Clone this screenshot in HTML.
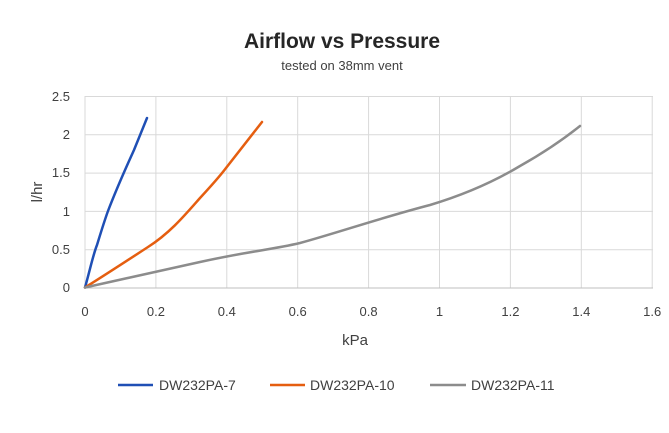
<!DOCTYPE html>
<html><head><style>body{margin:0;background:#fff}</style></head><body>
<svg width="669" height="428" xmlns="http://www.w3.org/2000/svg" font-family="'Liberation Sans', sans-serif">
<rect width="669" height="428" fill="#fff"/>
<g stroke="#d9d9d9" stroke-width="1">
<line x1="85" y1="96.5" x2="653" y2="96.5"/><line x1="85" y1="134.8" x2="653" y2="134.8"/>
<line x1="85" y1="173.1" x2="653" y2="173.1"/><line x1="85" y1="211.4" x2="653" y2="211.4"/>
<line x1="85" y1="249.7" x2="653" y2="249.7"/>
<line x1="155.9" y1="96" x2="155.9" y2="288"/><line x1="226.8" y1="96" x2="226.8" y2="288"/>
<line x1="297.7" y1="96" x2="297.7" y2="288"/><line x1="368.6" y1="96" x2="368.6" y2="288"/>
<line x1="439.5" y1="96" x2="439.5" y2="288"/><line x1="510.4" y1="96" x2="510.4" y2="288"/>
<line x1="581.3" y1="96" x2="581.3" y2="288"/><line x1="652.2" y1="96" x2="652.2" y2="288"/>
<line x1="85" y1="96" x2="85" y2="288"/>
</g>
<line x1="85" y1="288" x2="653" y2="288" stroke="#bfbfbf"/>
<g font-size="13" fill="#404040" text-anchor="end">
<text x="70" y="101">2.5</text><text x="70" y="139">2</text><text x="70" y="177">1.5</text>
<text x="70" y="216">1</text><text x="70" y="254">0.5</text><text x="70" y="292">0</text>
</g>
<g font-size="13" fill="#404040" text-anchor="middle">
<text x="85" y="316">0</text><text x="155.9" y="316">0.2</text><text x="226.8" y="316">0.4</text>
<text x="297.7" y="316">0.6</text><text x="368.6" y="316">0.8</text><text x="439.5" y="316">1</text>
<text x="510.4" y="316">1.2</text><text x="581.3" y="316">1.4</text><text x="652.2" y="316">1.6</text>
</g>
<text x="342" y="48" font-size="21" font-weight="bold" fill="#262626" text-anchor="middle">Airflow vs Pressure</text>
<text x="342" y="70" font-size="13" fill="#404040" text-anchor="middle">tested on 38mm vent</text>
<text x="355" y="345" font-size="15" fill="#404040" text-anchor="middle">kPa</text>
<text transform="translate(42,192) rotate(-90)" font-size="15" fill="#404040" text-anchor="middle">l/hr</text>
<g fill="none" stroke-width="2.5" stroke-linejoin="round" stroke-linecap="round">
<path d="M85,287.5 C90,270 93,255 97,245 C101,232 104,222 108,211 C118,185 125,170 134,150 L147,118" stroke="#1f4fb5"/>
<path d="M85,287.5 C105,275 125,262 148,247 C170,233 185,215 200,198 C212,185 220,176 226,168 C240,150 252,135 262,122" stroke="#e55e10"/>
<path d="M85,287.5 L200,262 C250,251 270,250 300,243 C340,232 380,218 430,205 C470,193 500,178 520,166 C545,152 565,138 580,126" stroke="#8c8c8c"/>
</g>
<g stroke-width="2.5">
<line x1="118" y1="385" x2="153" y2="385" stroke="#1f4fb5"/>
<line x1="270" y1="385" x2="305" y2="385" stroke="#e55e10"/>
<line x1="430" y1="385" x2="466" y2="385" stroke="#8c8c8c"/>
</g>
<g font-size="14" fill="#404040">
<text x="159" y="390">DW232PA-7</text><text x="310" y="390">DW232PA-10</text><text x="471" y="390">DW232PA-11</text>
</g>
</svg>
</body></html>
